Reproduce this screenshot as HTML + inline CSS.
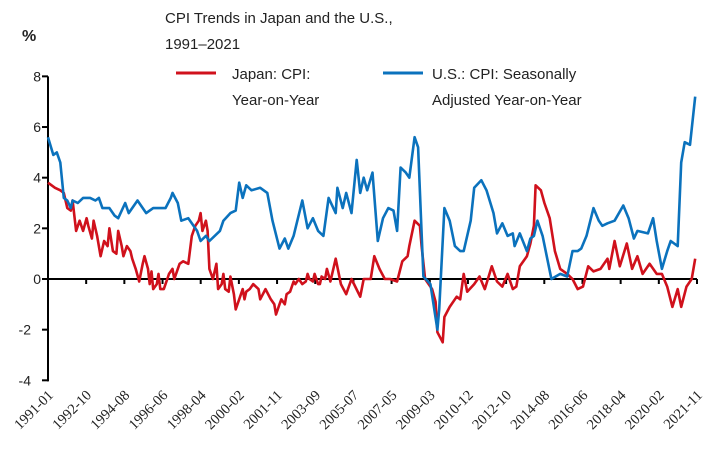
<!DOCTYPE html>
<html><head><meta charset="utf-8"><style>
body{margin:0;background:#fff;}
svg{display:block;font-family:"Liberation Sans",sans-serif;}
</style></head><body>
<svg id="chart" width="720" height="460">
<text x="165" y="23" font-size="15" fill="#222">CPI Trends in Japan and the U.S.,</text>
<text x="165" y="49" font-size="15" fill="#222">1991–2021</text>
<text x="22" y="41" font-size="16" font-weight="bold" fill="#222">%</text>
<g>
<line x1="176" y1="73" x2="216" y2="73" stroke="#d0111c" stroke-width="3"/>
<text x="232" y="79" font-size="15" fill="#222">Japan: CPI:</text>
<text x="232" y="105" font-size="15" fill="#222">Year-on-Year</text>
<line x1="383" y1="73" x2="423" y2="73" stroke="#0b72bd" stroke-width="3"/>
<text x="432" y="79" font-size="15" fill="#222">U.S.: CPI: Seasonally</text>
<text x="432" y="105" font-size="15" fill="#222">Adjusted Year-on-Year</text>
</g>
</svg>
<script>
const tickLabels=["1991-01","1992-10","1994-08","1996-06","1998-04","2000-02","2001-11","2003-09","2005-07","2007-05","2009-03","2010-12","2012-10","2014-08","2016-06","2018-04","2020-02","2021-11"];
const yTicks=[-4,-2,0,2,4,6,8];
const jpMonths=[0,4,7,9,11,13,14,16,18,20,22,23,25,26,28,30,32,34,35,37,39,40,42,43,45,47,48,50,52,54,55,57,58,59,60,62,63,64,66,68,69,71,72,74,75,77,80,82,84,86,87,88,90,91,92,94,96,97,99,100,101,103,104,106,107,109,111,112,113,115,117,120,121,124,127,129,130,132,133,135,136,138,140,141,143,145,147,148,149,151,152,154,155,156,158,159,161,164,167,170,173,178,180,184,186,189,192,195,199,202,205,206,209,212,213,215,219,221,222,225,226,229,233,235,237,239,243,246,249,253,256,259,262,265,267,269,273,275,277,278,281,283,286,289,292,296,299,302,305,308,311,315,319,320,323,326,330,333,336,339,343,347,350,353,356,359,361,364,367,369];
const jpValues=[3.8,3.6,3.5,3.4,2.8,2.7,3.1,1.9,2.3,1.9,2.4,2.1,1.6,2.3,1.7,0.9,1.5,1.3,2.0,1.1,1.0,1.9,1.3,0.9,1.3,1.1,0.8,0.4,-0.1,0.6,0.9,0.4,-0.2,0.3,-0.4,-0.2,0.2,-0.4,-0.4,0,0.2,0.4,0,0.4,0.6,0.7,0.6,1.7,2.1,2.3,2.6,1.9,2.3,1.9,0.4,0,0.6,-0.4,-0.2,0.2,-0.4,-0.5,0.1,-0.6,-1.2,-0.8,-0.4,-0.8,-0.5,-0.4,-0.2,-0.4,-0.8,-0.4,-0.8,-1.0,-1.4,-1.0,-0.8,-1.0,-0.6,-0.5,-0.1,-0.2,0,-0.2,-0.1,0.2,0,-0.1,0.2,-0.2,-0.2,0.1,0,0.4,-0.1,0.8,-0.2,-0.6,0,-0.7,0,0,0.9,0.4,0,0,-0.1,0.7,0.9,1.3,2.3,2.1,1.3,0,-0.4,-0.9,-2.1,-2.5,-1.5,-1.1,-0.7,-0.8,0.2,-0.5,-0.2,0.1,-0.4,0.5,-0.1,-0.3,0.2,-0.4,-0.3,0.5,0.9,1.4,2.1,3.7,3.5,3.0,2.4,1.1,0.4,0.2,0,-0.4,-0.3,0.5,0.3,0.4,0.8,0.4,1.5,0.5,1.4,0.4,0.9,0.2,0.6,0.2,0.2,-0.3,-1.1,-0.4,-1.1,-0.3,0,0.8];
const usMonths=[0,3,5,7,9,11,13,14,17,20,24,27,29,31,35,38,40,44,46,51,56,60,64,67,70,71,74,76,80,85,87,90,92,98,100,104,107,109,111,113,116,121,125,128,132,135,137,140,145,148,151,154,157,160,164,165,168,170,173,176,178,180,182,185,188,191,194,197,199,201,204,206,209,211,214,218,222,223,226,229,232,235,237,241,243,247,250,254,256,259,262,265,266,269,273,275,277,279,282,287,292,296,299,302,304,307,311,314,316,319,323,328,331,334,336,342,345,347,350,353,355,359,361,363,366,369];
const usValues=[5.6,4.9,5.0,4.6,3.2,3.1,2.8,3.1,3.0,3.2,3.2,3.1,3.2,2.8,2.8,2.5,2.4,3.0,2.6,3.1,2.6,2.8,2.8,2.8,3.2,3.4,3.0,2.3,2.4,1.9,1.5,1.7,1.5,1.9,2.3,2.6,2.7,3.8,3.2,3.7,3.5,3.6,3.4,2.3,1.2,1.6,1.2,1.7,3.1,2.0,2.4,1.9,1.7,3.2,2.6,3.6,2.8,3.4,2.6,4.7,3.4,4.0,3.5,4.2,1.5,2.4,2.8,2.7,1.9,4.4,4.2,4.0,5.6,5.2,0.1,-0.2,-2.0,-1.2,2.8,2.3,1.3,1.1,1.1,2.3,3.6,3.9,3.5,2.6,1.8,2.2,1.7,1.8,1.3,1.8,1.1,1.6,1.7,2.3,1.7,0,0.2,0.1,1.1,1.1,1.2,1.7,2.8,2.3,2.1,2.2,2.3,2.9,2.4,1.6,1.9,1.8,2.4,1.5,0.4,1.1,1.5,1.3,4.6,5.4,5.3,7.2];

const NS="http://www.w3.org/2000/svg";
const svg=document.getElementById('chart');
const X0=48,X1=697,MMAX=370,Y0=279,PPU=25.33;
const xs=m=>X0+(X1-X0)*m/MMAX;
const ys=v=>Y0-v*PPU;
function mk(t,a){const e=document.createElementNS(NS,t);for(const k in a)e.setAttribute(k,a[k]);svg.appendChild(e);return e;}

const ya=mk('line',{x1:X0,y1:ys(8),x2:X0,y2:ys(-4)+1,stroke:'#000','stroke-width':2});


yTicks.forEach(v=>{
  const t=mk('line',{x1:X0-6,y1:ys(v),x2:X0,y2:ys(v),stroke:'#000','stroke-width':2});
  
  
  const l=mk('text',{x:v<0?31:41,y:ys(v)+5,'text-anchor':'end','font-size':14,fill:'#222'});
  l.textContent=v;
  
  
});
const xa=mk('line',{x1:X0,y1:Y0,x2:X1,y2:Y0,stroke:'#000','stroke-width':2});


tickLabels.forEach((s,i)=>{
  const m=i*MMAX/(tickLabels.length-1);const x=xs(m);
  const t=mk('line',{x1:x,y1:Y0,x2:x,y2:Y0+5,stroke:'#000','stroke-width':2});
  
  
  const lx=x+6,ly=396;
  const l=mk('text',{x:lx,y:ly,'text-anchor':'end','font-size':14.5,fill:'#222','font-family':'Liberation Serif, serif',transform:`rotate(-45 ${lx} ${ly})`});
  l.textContent=s;
  
  
});
function series(ms,vs,color,name){
  const d=ms.map((m,i)=>(i?'L':'M')+xs(m).toFixed(1)+' '+ys(vs[i]).toFixed(1)).join('');
  const p=mk('path',{d:d,fill:'none',stroke:color,'stroke-width':2.6,'stroke-linejoin':'round'});
  
  
}
series(jpMonths,jpValues,'#d0111c','japan-cpi-line');
series(usMonths,usValues,'#0b72bd','us-cpi-line');
</script>
</body></html>
